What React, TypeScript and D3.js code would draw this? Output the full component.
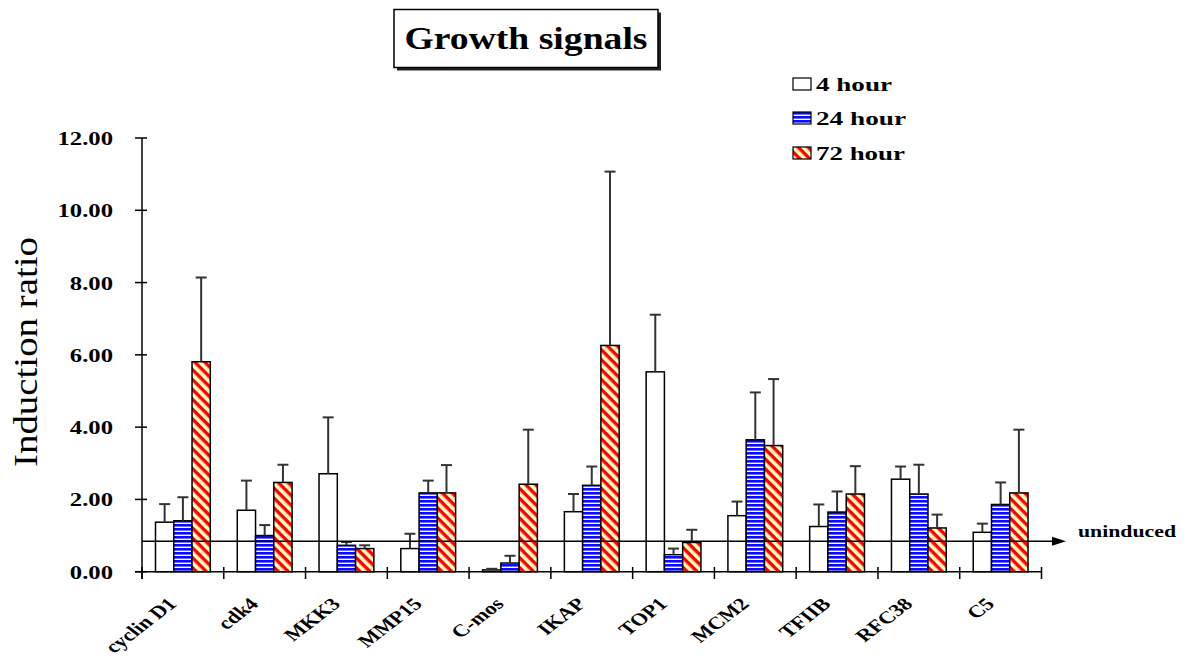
import React from "react";
import * as d3 from "d3";

// gene categories on the x axis
const categories = ["cyclin D1", "cdk4", "MKK3", "MMP15", "C-mos", "IKAP", "TOP1", "MCM2", "TFIIB", "RFC38", "C5"];
const seriesNames = ["4 hour", "24 hour", "72 hour"];

// induction ratios
const hour4 = [1.37, 1.7, 2.71, 0.64, 0.05, 1.66, 5.53, 1.55, 1.25, 2.56, 1.09];
const hour24 = [1.41, 1.0, 0.73, 2.18, 0.24, 2.39, 0.47, 3.65, 1.65, 2.15, 1.86];
const hour72 = [5.81, 2.47, 0.64, 2.18, 2.42, 6.26, 0.81, 3.49, 2.15, 1.21, 2.18];

// upper error bars (distance above bar top)
const err4 = [0.5, 0.82, 1.56, 0.41, 0.03, 0.49, 1.58, 0.39, 0.61, 0.35, 0.24];
const err24 = [0.65, 0.29, 0.09, 0.34, 0.2, 0.52, 0.17, 1.31, 0.57, 0.81, 0.61];
const err72 = [2.33, 0.49, 0.09, 0.77, 1.51, 4.81, 0.35, 1.84, 0.77, 0.37, 1.75];

const yTicks = [0, 2, 4, 6, 8, 10, 12];
const uninduced = 0.84;

const FONT = "'Liberation Serif', 'Times New Roman', serif";
const SX = 1.3; // the original is stretched horizontally

const fills = ["#ffffff", "url(#blueH)", "url(#redD)"];

export default function App() {
  const x = d3.scaleBand<string>().domain(categories).range([142, 1041.5]).padding(0);
  const x1 = d3.scaleBand<string>().domain(seriesNames).range([13.5, 68.3]).padding(0);
  const y = d3.scaleLinear().domain([0, 12]).range([571.7, 138]);

  const values = [hour4, hour24, hour72];
  const errors = [err4, err24, err72];
  const bw = x1.bandwidth();
  const yU = y(uninduced);

  return (
    <svg
      width={1189}
      height={664}
      style={{ position: "absolute", left: 0, top: 0, background: "#fff" }}
      fontFamily={FONT}
    >
      <defs>
        <pattern id="blueH" patternUnits="userSpaceOnUse" width={8} height={4}>
          <rect width={8} height={4} fill="#ffffff" />
          <rect width={8} height={2.6} fill="#0a0aff" />
        </pattern>
        <pattern id="redD" patternUnits="userSpaceOnUse" width={8} height={7} patternTransform="rotate(45)">
          <rect width={8} height={7} fill="#ffffc4" />
          <rect width={8} height={3.4} fill="#ff0000" />
        </pattern>
      </defs>

      {/* title */}
      <rect x={397} y={12.5} width={264} height={58} fill="#222" />
      <rect x={394} y={9.5} width={264} height={58} fill="#fff" stroke="#000" strokeWidth={1.5} />
      <text x={526} y={49} textAnchor="middle" fontSize={31} fontWeight="bold" textLength={243} lengthAdjust="spacingAndGlyphs">
        Growth signals
      </text>

      {/* legend */}
      {seriesNames.map((s, i) => {
        const top = [78, 112, 147][i];
        const tl = [76, 90, 89][i];
        return (
          <g key={s}>
            <rect x={793} y={top} width={18} height={12} fill={fills[i]} stroke="#000" strokeWidth={1.2} />
            <text x={816} y={top + 13} fontSize={18} fontWeight="bold" textLength={tl} lengthAdjust="spacingAndGlyphs">
              {s}
            </text>
          </g>
        );
      })}

      {/* y axis label */}
      <text
        transform="translate(37,352) rotate(-90)"
        textAnchor="middle"
        fontSize={34}
        textLength={230}
        lengthAdjust="spacingAndGlyphs"
      >
        Induction ratio
      </text>

      {/* bars */}
      {categories.map((c, ci) => (
        <g key={c} transform={`translate(${x(c)},0)`}>
          {seriesNames.map((s, si) => {
            const v = values[si][ci];
            return (
              <rect
                key={s}
                x={x1(s)}
                y={y(v)}
                width={bw}
                height={y(0) - y(v)}
                fill={fills[si]}
                stroke="#000"
                strokeWidth={1.5}
              />
            );
          })}
          {seriesNames.map((s, si) => {
            const v = values[si][ci];
            const e = errors[si][ci];
            const cx = (x1(s) as number) + bw / 2;
            return (
              <g key={s} stroke="#333" strokeWidth={2}>
                <line x1={cx} x2={cx} y1={y(v)} y2={y(v + e)} />
                <line x1={cx - 5.5} x2={cx + 5.5} y1={y(v + e)} y2={y(v + e)} />
              </g>
            );
          })}
        </g>
      ))}

      {/* uninduced reference line with arrow */}
      <line x1={142} x2={1056} y1={yU} y2={yU} stroke="#000" strokeWidth={1.5} />
      <path d={`M1052,${yU - 4.5} L1066,${yU} L1052,${yU + 4.5} Z`} fill="#000" />
      <text x={1078} y={yU - 4} fontSize={16} fontWeight="bold" textLength={98} lengthAdjust="spacingAndGlyphs">
        uninduced
      </text>

      {/* y axis */}
      <line x1={142} x2={142} y1={y(12)} y2={579} stroke="#000" strokeWidth={1.5} />
      {yTicks.map((t) => (
        <g key={t}>
          <line x1={135} x2={147} y1={y(t)} y2={y(t)} stroke="#000" strokeWidth={1.5} />
          <text
            transform={`translate(113,${y(t) + 7}) scale(${SX},1)`}
            textAnchor="end"
            fontSize={19}
            fontWeight="bold"
          >
            {t.toFixed(2)}
          </text>
        </g>
      ))}

      {/* x axis */}
      <line x1={135} x2={1041.5} y1={y(0)} y2={y(0)} stroke="#000" strokeWidth={1.5} />
      {categories.concat(["end"]).map((c, i) => {
        const xx = 142 + i * x.bandwidth();
        return <line key={c + i} x1={xx} x2={xx} y1={567} y2={579} stroke="#000" strokeWidth={1.5} />;
      })}
      {categories.map((c) => (
        <text
          key={c}
          transform={`translate(${(x(c) as number) + x.bandwidth() / 2 - 5},605) scale(${SX},1) rotate(-45)`}
          textAnchor="end"
          fontSize={17.5}
          fontWeight="bold"
        >
          {c}
        </text>
      ))}
    </svg>
  );
}
